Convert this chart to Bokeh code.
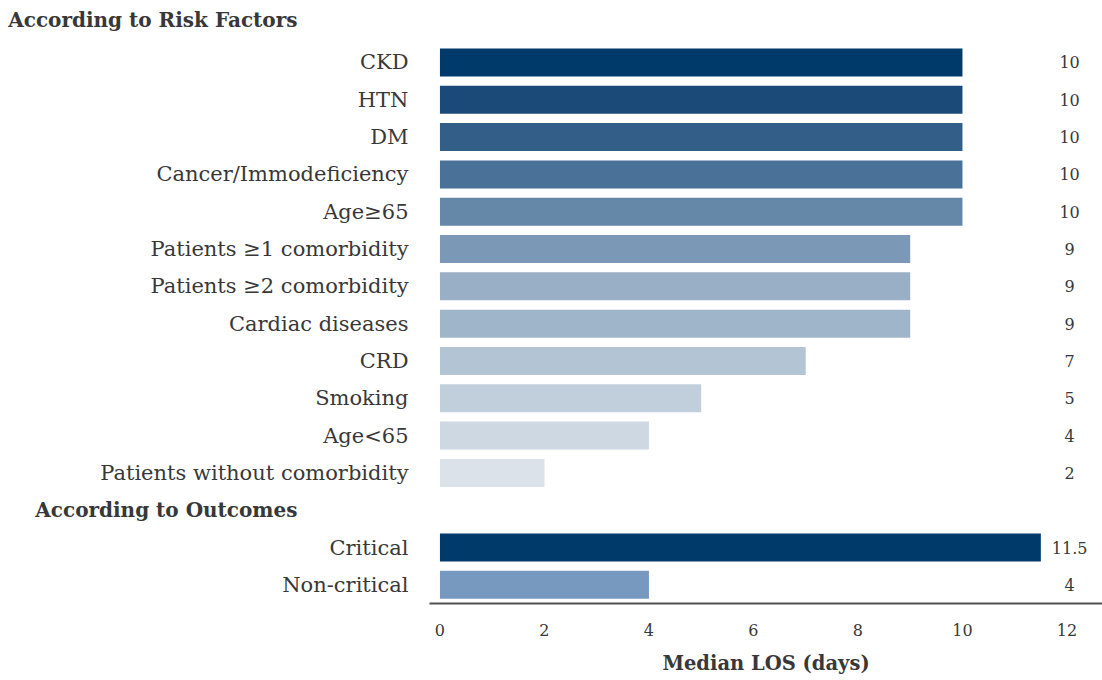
from bokeh.plotting import figure
from bokeh.models import ColumnDataSource, Range1d, FixedTicker, LinearAxis
from bokeh.embed import file_html
from bokeh.resources import INLINE

categories = ["CKD", "HTN", "DM", "Cancer/Immodeficiency", "Age≥65",
              "Patients ≥1 comorbidity", "Patients ≥2 comorbidity",
              "Cardiac diseases", "CRD", "Smoking", "Age<65",
              "Patients without comorbidity", "Critical", "Non-critical"]
values = [10, 10, 10, 10, 10, 9, 9, 9, 7, 5, 4, 2, 11.5, 4]
value_labels = ["10", "10", "10", "10", "10", "9", "9", "9", "7", "5", "4", "2", "11.5", "4"]
rows = [0, 1, 2, 3, 4, 5, 6, 7, 8, 9, 10, 11, 13, 14]
colors = ["#003a6b", "#1b4a78", "#335e88", "#4a7298", "#6587a8", "#7b99b6",
          "#98afc6", "#9fb5ca", "#b3c4d5", "#c1cfdd", "#cdd8e3", "#dbe2ea",
          "#003a6b", "#7799c0"]
headers = ["According to Risk Factors", "According to Outcomes"]
header_rows = [-1.15, 12]
x_ticks = [0, 2, 4, 6, 8, 10, 12]

FONT = "DejaVu Serif"
TXT = "#383838"

src = ColumnDataSource(dict(y=rows, right=values, color=colors,
                            lab=value_labels, lx=[12.05] * len(rows)))

p = figure(width=1102, height=680, output_backend="svg", toolbar_location=None,
           x_range=Range1d(-0.2, 12.68), y_range=Range1d(14.5, -1.66),
           min_border_left=429, min_border_right=0, min_border_top=0,
           min_border_bottom=77)
p.outline_line_color = None
p.grid.grid_line_color = None

p.hbar(y="y", left=0, right="right", height=0.75, color="color",
       line_color=None, source=src)
p.text(x="lx", y="y", text="lab", source=src, text_align="center",
       text_baseline="middle", text_font_size="16px", text_color=TXT,
       text_font={"value": FONT})

yax = p.yaxis[0]
yax.ticker = FixedTicker(ticks=rows)
yax.major_label_overrides = {r: c for r, c in zip(rows, categories)}
yax.axis_line_color = None
yax.major_tick_line_color = None
yax.minor_tick_line_color = None
yax.major_label_text_font = FONT
yax.major_label_text_font_size = "21px"
yax.major_label_text_color = TXT
yax.major_label_standoff = 15

hax = LinearAxis(ticker=FixedTicker(ticks=header_rows),
                 major_label_overrides={r: h for r, h in zip(header_rows, headers)})
hax.axis_line_color = None
hax.major_tick_line_color = None
hax.minor_tick_line_color = None
hax.major_label_text_font = FONT
hax.major_label_text_font_style = "bold"
hax.major_label_text_font_size = "20px"
hax.major_label_text_color = TXT
hax.major_label_standoff = -206
p.add_layout(hax, "left")

xax = p.xaxis[0]
xax.ticker = FixedTicker(ticks=x_ticks)
xax.axis_line_color = "#505050"
xax.axis_line_width = 2
xax.major_tick_line_color = None
xax.minor_tick_line_color = None
xax.major_label_text_font = FONT
xax.major_label_text_font_size = "16px"
xax.major_label_text_color = TXT
xax.major_label_standoff = 14
xax.axis_label = "Median LOS (days)"
xax.axis_label_text_font = FONT
xax.axis_label_text_font_style = "bold"
xax.axis_label_text_font_size = "19.5px"
xax.axis_label_text_color = TXT
xax.axis_label_standoff = 13

open("out.html", "w").write(file_html(p, INLINE))
